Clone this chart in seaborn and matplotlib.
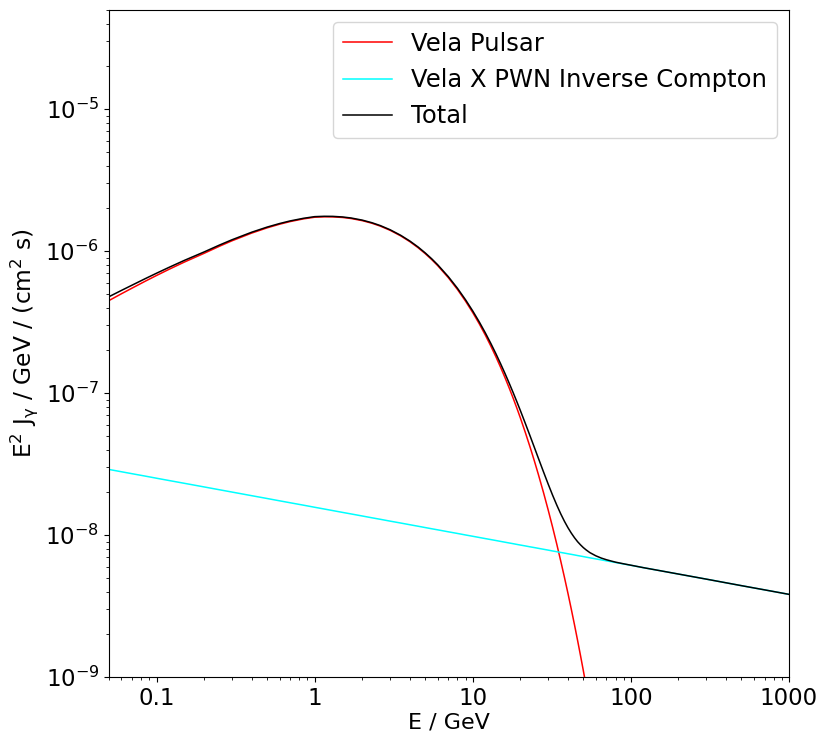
import matplotlib
matplotlib.use("Agg")
import matplotlib.pyplot as plt
import matplotlib.ticker as mticker
import seaborn as sns
import pandas as pd

# Energy grid (GeV) shared by the IC and Total curves
energy = [0.05, 0.06, 0.07, 0.085, 0.1, 0.12, 0.15, 0.2, 0.25, 0.3, 0.4, 0.5, 0.6, 0.7,
          0.85, 1.0, 1.15, 1.3, 1.5, 1.7, 2.0, 2.3, 2.6, 3.0, 3.5, 4.0, 4.5, 5.0, 5.5,
          6.0, 7.0, 8.0, 9.0, 10, 11, 12, 13, 14, 15, 16, 17, 18, 19, 20, 21.5, 23,
          24.5, 26, 28, 30, 32, 34, 36, 38, 40, 42, 44, 46, 48, 50, 52, 55, 60, 65,
          70, 75, 80, 90, 100, 120, 150, 200, 300, 500, 700, 1000]

# Vela pulsar (until it leaves the bottom of the axes)
energy_pulsar = [0.05, 0.06, 0.07, 0.085, 0.1, 0.12, 0.15, 0.2, 0.25, 0.3, 0.4, 0.5, 0.6,
                 0.7, 0.85, 1.0, 1.15, 1.3, 1.5, 1.7, 2.0, 2.3, 2.6, 3.0, 3.5, 4.0, 4.5,
                 5.0, 5.5, 6.0, 7.0, 8.0, 9.0, 10, 11, 12, 13, 14, 15, 16, 17, 18, 19,
                 20, 21.5, 23, 24.5, 26, 28, 30, 32, 34, 36, 38, 40, 42, 44, 46, 48, 50,
                 52, 55, 60]
vela_pulsar = [4.486e-7, 5.012e-7, 5.490e-7, 6.149e-7, 6.741e-7, 7.450e-7, 8.380e-7,
               9.658e-7, 1.083e-6, 1.183e-6, 1.341e-6, 1.459e-6, 1.548e-6, 1.616e-6,
               1.688e-6, 1.734e-6, 1.745e-6, 1.743e-6, 1.727e-6, 1.698e-6, 1.640e-6,
               1.573e-6, 1.501e-6, 1.402e-6, 1.281e-6, 1.166e-6, 1.059e-6, 9.609e-7,
               8.717e-7, 7.904e-7, 6.508e-7, 5.370e-7, 4.442e-7, 3.687e-7, 3.071e-7,
               2.564e-7, 2.147e-7, 1.803e-7, 1.518e-7, 1.282e-7, 1.085e-7, 9.213e-8,
               7.836e-8, 6.680e-8, 5.272e-8, 4.185e-8, 3.336e-8, 2.668e-8, 1.994e-8,
               1.498e-8, 1.132e-8, 8.600e-9, 6.559e-9, 5.030e-9, 3.877e-9, 2.996e-9,
               2.327e-9, 1.812e-9, 1.417e-9, 1.112e-9, 8.75e-10, 6.14e-10, 3.46e-10]

# Vela X PWN inverse Compton
vela_x_ic = [2.897e-8, 2.791e-8, 2.704e-8, 2.600e-8, 2.513e-8, 2.421e-8, 2.314e-8,
             2.182e-8, 2.084e-8, 2.008e-8, 1.893e-8, 1.809e-8, 1.742e-8, 1.688e-8,
             1.623e-8, 1.569e-8, 1.525e-8, 1.487e-8, 1.444e-8, 1.408e-8, 1.362e-8,
             1.323e-8, 1.291e-8, 1.253e-8, 1.215e-8, 1.182e-8, 1.154e-8, 1.129e-8,
             1.107e-8, 1.088e-8, 1.054e-8, 1.026e-8, 1.001e-8, 9.80e-9, 9.61e-9,
             9.44e-9, 9.29e-9, 9.15e-9, 9.02e-9, 8.90e-9, 8.79e-9, 8.69e-9, 8.59e-9,
             8.50e-9, 8.38e-9, 8.26e-9, 8.16e-9, 8.06e-9, 7.94e-9, 7.83e-9, 7.72e-9,
             7.63e-9, 7.54e-9, 7.46e-9, 7.38e-9, 7.31e-9, 7.24e-9, 7.17e-9, 7.11e-9,
             7.05e-9, 6.99e-9, 6.91e-9, 6.79e-9, 6.68e-9, 6.58e-9, 6.49e-9, 6.40e-9,
             6.25e-9, 6.12e-9, 5.89e-9, 5.63e-9, 5.31e-9, 4.89e-9, 4.40e-9, 4.11e-9,
             3.82e-9]

# Total
total = [4.776e-7, 5.291e-7, 5.760e-7, 6.409e-7, 6.992e-7, 7.692e-7, 8.611e-7, 9.876e-7,
         1.104e-6, 1.203e-6, 1.360e-6, 1.477e-6, 1.565e-6, 1.633e-6, 1.704e-6, 1.750e-6,
         1.760e-6, 1.758e-6, 1.741e-6, 1.712e-6, 1.654e-6, 1.586e-6, 1.514e-6, 1.415e-6,
         1.293e-6, 1.178e-6, 1.071e-6, 9.722e-7, 8.828e-7, 8.013e-7, 6.613e-7, 5.473e-7,
         4.542e-7, 3.785e-7, 3.167e-7, 2.658e-7, 2.240e-7, 1.895e-7, 1.608e-7, 1.371e-7,
         1.173e-7, 1.008e-7, 8.695e-8, 7.530e-8, 6.110e-8, 5.011e-8, 4.152e-8, 3.474e-8,
         2.788e-8, 2.281e-8, 1.904e-8, 1.623e-8, 1.410e-8, 1.249e-8, 1.126e-8, 1.031e-8,
         9.567e-9, 8.98e-9, 8.53e-9, 8.16e-9, 7.87e-9, 7.52e-9, 7.14e-9, 6.88e-9,
         6.70e-9, 6.56e-9, 6.44e-9, 6.27e-9, 6.13e-9, 5.89e-9, 5.63e-9, 5.31e-9,
         4.89e-9, 4.40e-9, 4.11e-9, 3.82e-9]

series_names = ["Vela Pulsar", "Vela X PWN Inverse Compton", "Total"]
series_colors = ["red", "cyan", "black"]
x_tick_values = [0.1, 1, 10, 100, 1000]
x_tick_labels = ["0.1", "1", "10", "100", "1000"]

df = pd.concat([
    pd.DataFrame({"E": energy_pulsar, "flux": vela_pulsar, "series": series_names[0]}),
    pd.DataFrame({"E": energy, "flux": vela_x_ic, "series": series_names[1]}),
    pd.DataFrame({"E": energy, "flux": total, "series": series_names[2]}),
], ignore_index=True)

fig = plt.figure(figsize=(8.3, 7.45), dpi=100)
ax = fig.add_axes([0.1313, 0.0913, 0.8193, 0.8953])
ax.set_xscale("log")
ax.set_yscale("log")

for name, color in zip(series_names, series_colors):
    sub = df[df["series"] == name]
    sns.lineplot(data=sub, x="E", y="flux", color=color, label=name, ax=ax,
                 linewidth=1.1, sort=True, estimator=None)

ax.set_xlim(0.05, 1000)
ax.set_ylim(1e-9, 5e-5)
ax.set_xticks(x_tick_values)
ax.set_xticklabels(x_tick_labels)
ax.xaxis.set_minor_formatter(mticker.NullFormatter())
ax.yaxis.set_minor_formatter(mticker.NullFormatter())
ax.yaxis.set_minor_locator(mticker.LogLocator(base=10, subs=range(2, 10), numticks=20))
ax.tick_params(axis="both", which="major", labelsize=16.5, length=3.5)
ax.tick_params(axis="both", which="minor", length=2)
ax.set_xlabel("E / GeV", fontsize=16, labelpad=2)
ax.set_ylabel(r"E$^2$ J$_\mathregular{γ}$ / GeV / (cm$^2$ s)", fontsize=16.8, labelpad=4)
ax.legend(loc="upper right", fontsize=17.5)

fig.savefig("out.png", dpi=100)
